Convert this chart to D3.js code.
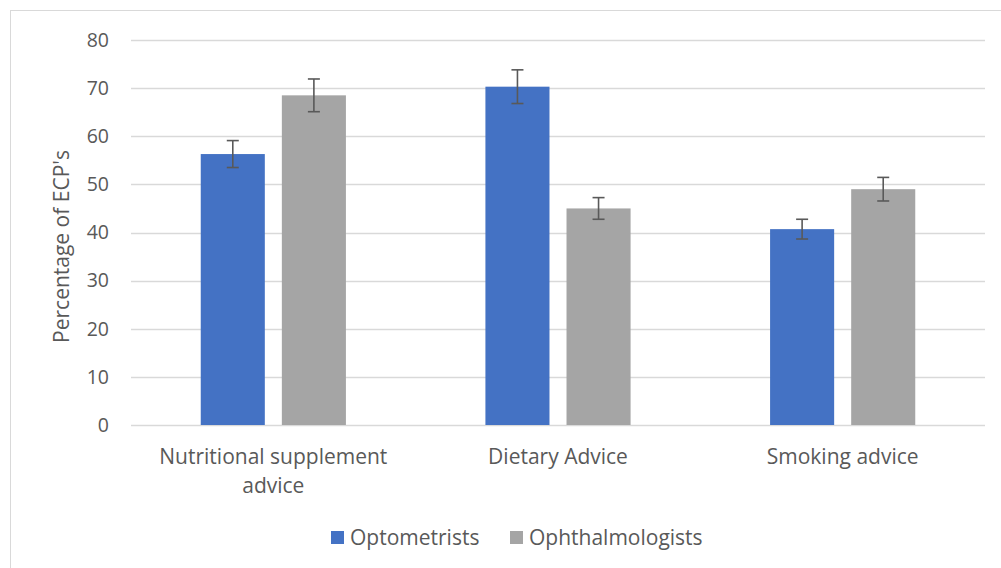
<!DOCTYPE html>
<html>
<head>
<meta charset="utf-8">
<script src="https://cdn.jsdelivr.net/npm/d3@7"></script>
<style>
  body { margin: 0; background: #fff; }
  svg text { font-family: "Open Sans", sans-serif; fill: #595959; }
</style>
</head>
<body>
<svg id="chart" width="1001" height="568"></svg>
<script>
const categories = [['Nutritional supplement', 'advice'], ['Dietary Advice'], ['Smoking advice']];
const seriesNames = ['Optometrists', 'Ophthalmologists'];
const optometrists = [56.3, 70.3, 40.7];
const ophthalmologists = [68.5, 45.0, 49.0];
const optometristsErr = [2.8, 3.5, 2.05];
const ophthalmologistsErr = [3.4, 2.25, 2.45];
const yTicks = [0, 10, 20, 30, 40, 50, 60, 70, 80];
const colors = ['#4472c4', '#a5a5a5'];

const svg = d3.select('#chart');
const margin = { top: 40, right: 16, bottom: 143, left: 131 };
const width = +svg.attr('width');
const height = +svg.attr('height');

svg.append('rect')
  .attr('x', 10.5).attr('y', 10.5)
  .attr('width', 1000).attr('height', 600)
  .attr('fill', 'none').attr('stroke', '#d9d9d9');

const y = d3.scaleLinear()
  .domain([0, 80])
  .range([height - margin.bottom, margin.top]);

const catKeys = categories.map((c, i) => i);
const x0 = d3.scaleBand()
  .domain(catKeys)
  .range([margin.left, width - margin.right])
  .padding(0);

const x1 = d3.scaleBand()
  .domain(seriesNames)
  .range([0, x0.bandwidth()])
  .paddingInner(0.21)
  .paddingOuter(0.86);

// grid
svg.append('g')
  .selectAll('line')
  .data(yTicks)
  .join('line')
  .attr('x1', margin.left).attr('x2', width - margin.right)
  .attr('y1', d => Math.round(y(d)) + 0.5).attr('y2', d => Math.round(y(d)) + 0.5)
  .attr('stroke', '#d9d9d9').attr('stroke-width', 1.3);

// y axis labels
svg.append('g')
  .attr('transform', `translate(${margin.left - 22},0)`)
  .call(d3.axisLeft(y).tickValues(yTicks).tickSize(0).tickPadding(0))
  .call(g => g.select('.domain').remove())
  .call(g => g.selectAll('text')
    .attr('font-size', 19.5)
    .style('font-family', '"Open Sans", sans-serif')
    .attr('fill', '#595959'));

const data = catKeys.map(i => ({
  cat: i,
  values: [
    { key: seriesNames[0], v: optometrists[i], e: optometristsErr[i] },
    { key: seriesNames[1], v: ophthalmologists[i], e: ophthalmologistsErr[i] },
  ],
}));

const groups = svg.append('g')
  .selectAll('g')
  .data(data)
  .join('g')
  .attr('transform', d => `translate(${x0(d.cat)},0)`);

groups.selectAll('rect')
  .data(d => d.values)
  .join('rect')
  .attr('x', d => x1(d.key))
  .attr('y', d => y(d.v))
  .attr('width', x1.bandwidth())
  .attr('height', d => y(0) - y(d.v))
  .attr('fill', (d, i) => colors[i]);

// error bars
const eb = groups.selectAll('g.err')
  .data(d => d.values)
  .join('g')
  .attr('class', 'err')
  .attr('stroke', '#595959')
  .attr('stroke-width', 1.6);

eb.append('line')
  .attr('x1', d => x1(d.key) + x1.bandwidth() / 2)
  .attr('x2', d => x1(d.key) + x1.bandwidth() / 2)
  .attr('y1', d => y(d.v + d.e))
  .attr('y2', d => y(d.v - d.e));
[1, -1].forEach(s => {
  eb.append('line')
    .attr('x1', d => x1(d.key) + x1.bandwidth() / 2 - 6)
    .attr('x2', d => x1(d.key) + x1.bandwidth() / 2 + 6)
    .attr('y1', d => y(d.v + s * d.e))
    .attr('y2', d => y(d.v + s * d.e));
});

// category labels
const catLabels = svg.append('g')
  .selectAll('text')
  .data(categories)
  .join('text')
  .attr('x', (d, i) => x0(i) + x0.bandwidth() / 2)
  .attr('y', 464)
  .attr('text-anchor', 'middle')
  .attr('font-size', 21);
catLabels.selectAll('tspan')
  .data(d => d)
  .join('tspan')
  .attr('x', function () { return d3.select(this.parentNode).attr('x'); })
  .attr('dy', (d, i) => i === 0 ? 0 : 29)
  .text(d => d);

// y axis title
svg.append('text')
  .attr('transform', `translate(69,${(y(0) + y(80)) / 2 + 14}) rotate(-90)`)
  .attr('text-anchor', 'middle')
  .attr('font-size', 21)
  .text("Percentage of ECP's");

// legend
const legendPos = [331, 510];
const legend = svg.append('g')
  .selectAll('g')
  .data(seriesNames)
  .join('g')
  .attr('transform', (d, i) => `translate(${legendPos[i]},531)`);
legend.append('rect')
  .attr('width', 13).attr('height', 13)
  .attr('fill', (d, i) => colors[i]);
legend.append('text')
  .attr('x', 19).attr('y', 14)
  .attr('font-size', 21)
  .text(d => d);
</script>
</body>
</html>
